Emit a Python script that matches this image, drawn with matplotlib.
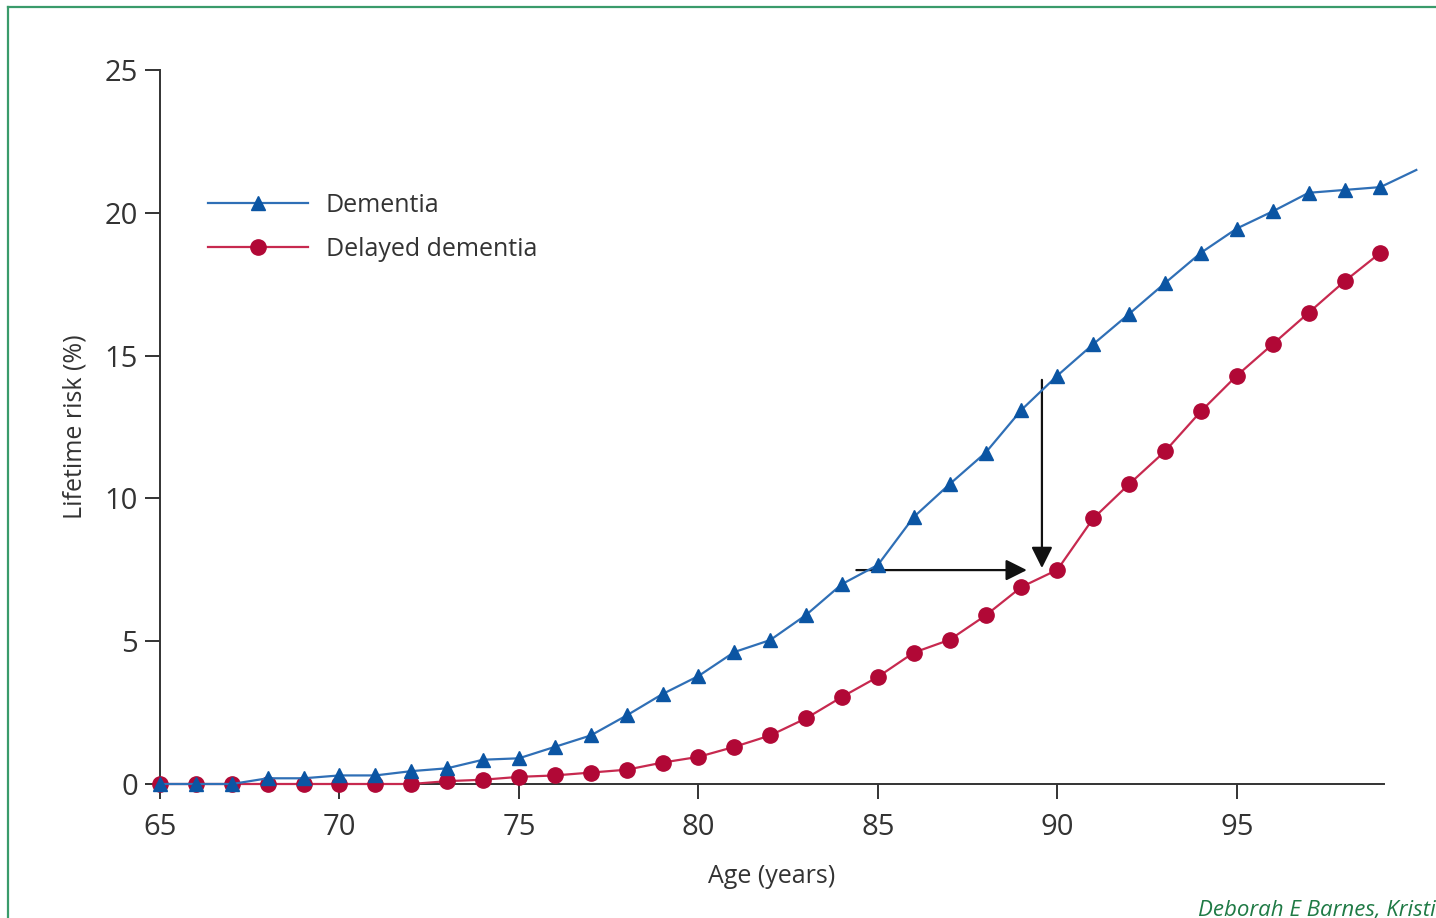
import matplotlib
matplotlib.use('Agg')
import matplotlib.pyplot as plt
from matplotlib.lines import Line2D

plt.rcParams['font.family'] = ['Open Sans', 'DejaVu Sans']

# ages and lifetime risk (%)
age = list(range(65, 101))
dementia = [0, 0, 0, 0.2, 0.2, 0.3, 0.3, 0.45, 0.55, 0.85,
            0.9, 1.3, 1.7, 2.4, 3.15, 3.78, 4.62, 5.04, 5.92, 7.0,
            7.67, 9.35, 10.5, 11.6, 13.1, 14.3, 15.4, 16.46, 17.54, 18.6,
            19.45, 20.05, 20.7, 20.8, 20.9, 21.5]
age_delayed = list(range(65, 100))
delayed = [0, 0, 0, 0, 0, 0, 0, 0, 0.1, 0.15,
           0.25, 0.3, 0.4, 0.5, 0.75, 0.95, 1.3, 1.7, 2.3, 3.05,
           3.75, 4.6, 5.05, 5.9, 6.9, 7.5, 9.3, 10.5, 11.65, 13.05,
           14.3, 15.4, 16.5, 17.6, 18.6]
xticks = [65, 70, 75, 80, 85, 90, 95]
yticks = [0, 5, 10, 15, 20, 25]

blue = '#0b55a3'
blue_line = '#2f6fb6'
red = '#b10836'
red_line = '#c7294f'
dark = '#333333'

fig = plt.figure(figsize=(14.36, 9.18), dpi=100)
ax = fig.add_axes([160/1436, 1-784/918, 1224/1436, 714/918])

ax.plot(age_delayed, delayed, color=red_line, lw=1.6, marker='o', ms=11,
        mfc=red, mec=red, clip_on=False, zorder=3, label='Delayed dementia')
# blue sits on top of red where they overlap at the start
ax.plot(age, dementia, color=blue_line, lw=1.6, marker='^', ms=10.5,
        mfc=blue, mec=blue, markevery=list(range(len(age)-1)),
        clip_on=False, zorder=4, label='Dementia')

# arrows showing the delay
ax.annotate('', xy=(89.15, 7.49), xytext=(84.4, 7.49),
            arrowprops=dict(arrowstyle='-|>', color='#111111', lw=1.6,
                            mutation_scale=32, shrinkA=0, shrinkB=0))
ax.annotate('', xy=(89.57, 7.56), xytext=(89.57, 14.15),
            arrowprops=dict(arrowstyle='-|>', color='#111111', lw=1.6,
                            mutation_scale=32, shrinkA=0, shrinkB=0))

ax.set_xlim(65, 99.1)
ax.set_ylim(0, 25)
ax.set_xticks(xticks)
ax.set_yticks(yticks)
for s in ['top', 'right']:
    ax.spines[s].set_visible(False)
for s in ['left', 'bottom']:
    ax.spines[s].set_color(dark)
    ax.spines[s].set_linewidth(1.4)
ax.tick_params(axis='both', direction='out', length=11, width=1.4,
               color=dark, labelcolor=dark, labelsize=21)
ax.tick_params(axis='y', pad=5)
ax.tick_params(axis='x', pad=10)

ax.set_xlabel('Age (years)', fontsize=18, color=dark, labelpad=16)
ax.set_ylabel('Lifetime risk (%)', fontsize=18, color=dark, labelpad=12)

handles = [Line2D([], [], color=blue_line, lw=1.6, marker='^', ms=10.5, mfc=blue, mec=blue),
           Line2D([], [], color=red_line, lw=1.6, marker='o', ms=11, mfc=red, mec=red)]
ax.legend(handles, ['Dementia', 'Delayed dementia'], loc='upper left',
          bbox_to_anchor=(208/1436, 1-193/918), bbox_transform=fig.transFigure,
          frameon=False, fontsize=18, handlelength=4, handletextpad=0.7,
          labelspacing=0.75, borderpad=0, borderaxespad=0, labelcolor=dark)

# green frame and credit line (cut off at the edge, as in the source page)
frame = '#3a9b6b'
fig.add_artist(Line2D([8/1436, 8/1436], [0, 1-7/918], color=frame, lw=1.6,
                      transform=fig.transFigure))
fig.add_artist(Line2D([8/1436, 1], [1-7/918, 1-7/918], color=frame, lw=1.6,
                      transform=fig.transFigure))
fig.text(1198/1436, 1-900/918, 'Deborah E Barnes, Kristine Yaffe', color='#1f7a45',
         fontsize=16, style='italic', va='top', ha='left')

fig.savefig('out.png', dpi=100)
